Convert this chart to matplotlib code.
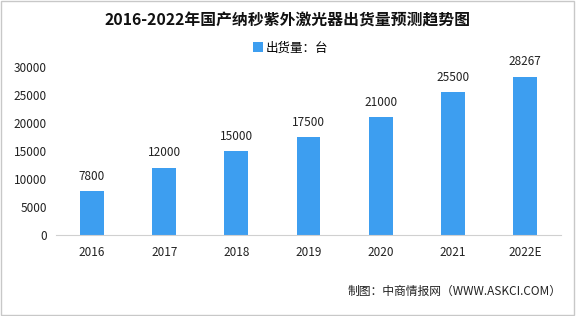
import matplotlib
matplotlib.use("Agg")
import matplotlib.pyplot as plt
from matplotlib.patches import Rectangle

plt.rcParams['font.family'] = ['Noto Sans CJK SC', 'DejaVu Sans']

categories = ["2016", "2017", "2018", "2019", "2020", "2021", "2022E"]
values = [7800, 12000, 15000, 17500, 21000, 25500, 28267]
yticks = [0, 5000, 10000, 15000, 20000, 25000, 30000]

title = "2016-2022年国产纳秒紫外激光器出货量预测趋势图"
legend_label = "出货量：台"
source = "制图：中商情报网（WWW.ASKCI.COM）"
color = "#3d9ef0"

fig = plt.figure(figsize=(5.76, 3.16), dpi=100)
ax = fig.add_axes([56/576, 1-235/316, (561-56)/576, (235-67)/316])

x = list(range(len(categories)))
bars = ax.bar(x, values, width=0.33, color=color, label=legend_label, zorder=2)
for xi, v in zip(x, values):
    ax.annotate(str(v), (xi, v), xytext=(0, 6), textcoords="offset points",
                ha="center", va="bottom", fontsize=8.5, color="#222222")

ax.set_xlim(-0.5, len(categories) - 0.5)
ax.set_ylim(0, 30000)
ax.set_yticks(yticks)
ax.set_yticklabels([str(t) for t in yticks], fontsize=8.5, color="#222222")
ax.set_xticks(x)
ax.set_xticklabels(categories, fontsize=8.5, color="#222222")
ax.tick_params(axis="x", length=0, pad=8)
ax.tick_params(axis="y", length=0, pad=6.5)
for s in ["top", "right", "left"]:
    ax.spines[s].set_visible(False)
ax.spines["bottom"].set_color("#d0d0d0")
ax.spines["bottom"].set_linewidth(0.8)

fig.text(0.5, 1-21/316, title, ha="center", va="center", fontsize=11.4, fontweight="bold", color="#111111")
leg = fig.legend(handles=[bars], labels=[legend_label], loc="center", bbox_to_anchor=(0.505, 1-48/316),
                 frameon=False, fontsize=9, handlelength=0.8, handleheight=0.8, handletextpad=0.2)
fig.text(562/576, 1-291/316, source, ha="right", va="center", fontsize=8.5, color="#222222")

fig.patches.append(Rectangle((0.002, 0.003), 0.995, 0.994, transform=fig.transFigure,
                             fill=False, edgecolor="#c8c8c8", linewidth=1))

fig.savefig("out.png", dpi=100)
